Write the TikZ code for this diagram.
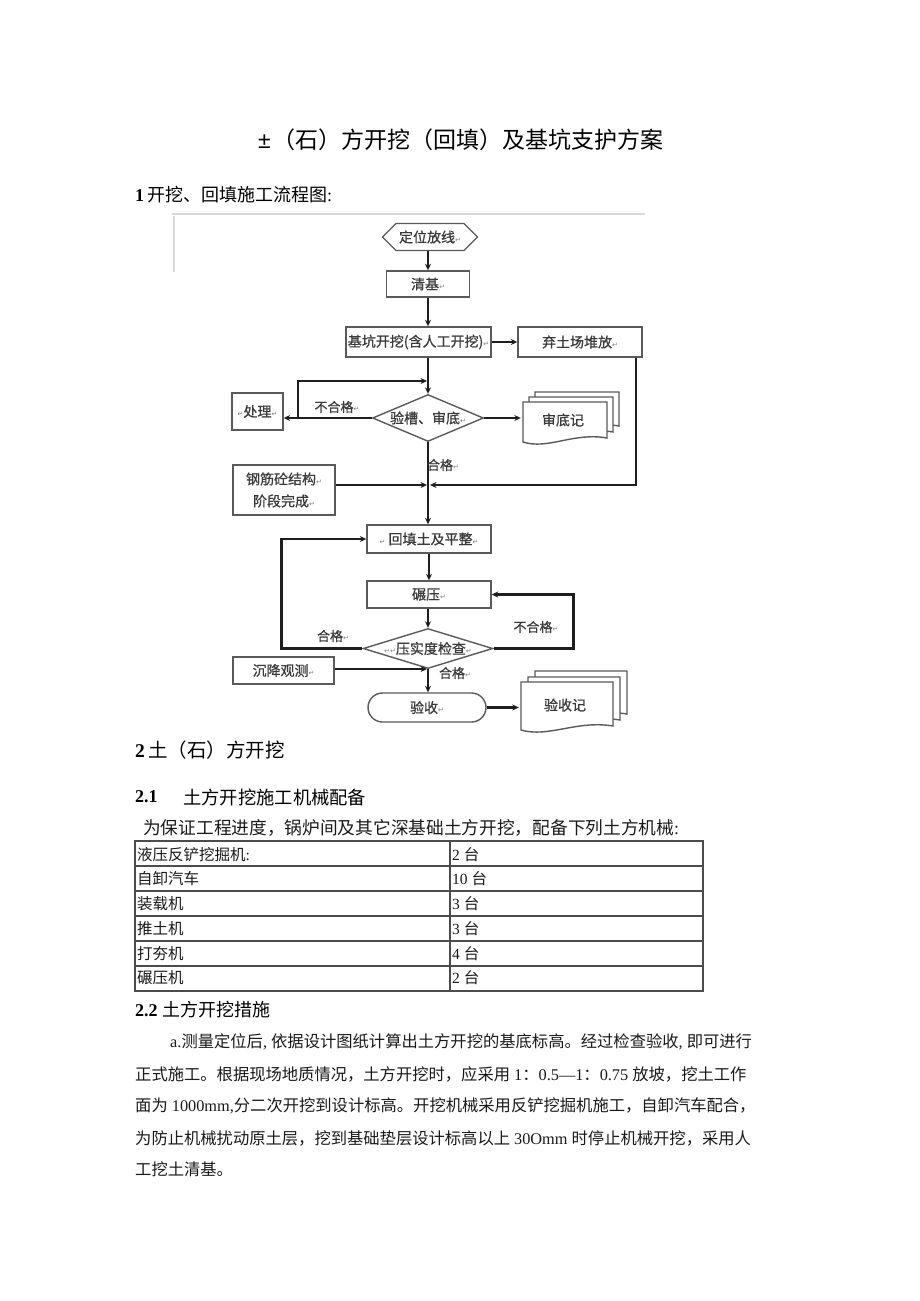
\documentclass[tikz,border=0pt]{standalone}
\usepackage{fontspec}
\setmainfont{Liberation Serif}
\newfontfamily\cjk{Noto Sans CJK SC}
\newfontfamily\cjkm[FakeBold=0.7]{Noto Sans CJK SC}
\newfontfamily\symf{DejaVu Sans}
\newfontfamily\lsans{Liberation Sans}
\usetikzlibrary{arrows.meta,shapes.geometric,shapes.misc,shapes.symbols}
\definecolor{boxc}{HTML}{5A5A5A}
\definecolor{linec}{HTML}{1E1E1E}
\definecolor{txtc}{HTML}{3A3A3A}
\definecolor{bodyc}{HTML}{1A1A1A}
\newcommand\zz[1]{{\cjk #1}}
\newcommand\rmk{{\symf\fontsize{7}{7}\selectfont\textcolor{gray}{↵}}}
\newcommand\docshp[4]{%
  \draw[docl] (#1,#2) -- (#3,#2) -- (#3,{#4-7})
    .. controls ({#1+0.6*(#3-#1)},{#4-13}) and ({#1+0.3*(#3-#1)},{#4+5}) .. (#1,{#4-3}) -- cycle;}
\begin{document}
\begin{tikzpicture}[x=1pt,y=-1pt,
  flowtxt/.style={font=\cjkm\fontsize{14}{22}\selectfont, text=txtc},
  box/.style={flowtxt, draw=boxc, line width=1.4pt, fill=white, inner sep=0pt},
  lbl/.style={font=\cjkm\fontsize{13}{14}\selectfont, text=txtc, inner sep=0pt},
  conn/.style={draw=linec, line width=2.2pt},
  arr/.style={conn, -{Stealth[length=6.5pt,width=6pt]}},
  docl/.style={draw=boxc, line width=1.4pt, fill=white},
  bodyt/.style={anchor=west, inner sep=0pt, text=bodyc},
  cellt/.style={bodyt, font=\fontsize{15.5}{15.5}\selectfont},
  tline/.style={draw=black!70, line width=1.1pt}]
\fill[white] (0,0) rectangle (920,1301);
\path[use as bounding box] (0,0) rectangle (920,1301);

% ---------- headings ----------
\node[bodyt, text=black, font=\cjk\fontsize{23}{23}\selectfont] (title) at (258,140) {{\lsans ±}\kern2pt（石）方开挖（回填）及基坑支护方案};
\node[bodyt, text=black, font=\fontsize{18}{18}\selectfont] (h1) at (135,195) {\textbf{1}\,\zz{开挖、回填施工流程图}:};

% faint frame remains of the pasted picture
\draw[gray!30, line width=1.2pt] (172,214) -- (645,214);
\draw[gray!30, line width=1.2pt] (174,216) -- (174,272);

% ---------- flowchart nodes ----------
\node[box, signal, signal to=west and east, minimum width=95pt, minimum height=27pt] (dw) at (430,237) {定位放线\rmk};
\node[box, minimum width=83pt, minimum height=26pt] (qj) at (428,284) {清基\rmk};
\node[box, minimum width=145pt, minimum height=30pt] (kw) at (418.5,342) {基坑开挖(含人工开挖)\rmk};
\node[box, minimum width=124pt, minimum height=30pt] (qt) at (580,342) {弃土场堆放\rmk};
\node[box, diamond, aspect=2.36, minimum width=111pt, minimum height=47pt] (yc) at (428,418) {验槽、审底\rmk};
\node[box, minimum width=51pt, minimum height=37pt] (cl) at (257.5,411.5) {\rmk 处理\rmk};
\node[box, minimum width=102pt, minimum height=50pt, align=center] (gj) at (284,490) {钢筋砼结构\rmk\\阶段完成\rmk};
\node[box, minimum width=124pt, minimum height=28pt] (ht) at (429,539) {\rmk\ 回填土及平整\rmk};
\node[box, minimum width=124pt, minimum height=27pt] (ny) at (429,594.5) {碾压\rmk};
\node[box, diamond, aspect=3.24, minimum width=120pt, minimum height=37pt] (ysd) at (428,648.5) {\rmk\rmk 压实度检查\rmk};
\node[box, minimum width=101pt, minimum height=27pt] (cj) at (283.5,670.5) {沉降观测\rmk};
\node[box, rounded rectangle, minimum width=118pt, minimum height=29pt] (ys) at (427,707.5) {验收\rmk};

% multi-documents
\docshp{535}{392}{619}{433}
\docshp{529}{397}{613}{439}
\docshp{523}{402}{607}{445}
\node[flowtxt, minimum width=84pt, minimum height=43pt, inner sep=0pt] (sdj) at (563,420) {审底记};
\docshp{535}{671}{627}{721}
\docshp{528}{677}{620}{727}
\docshp{521}{682}{613}{733}
\node[flowtxt, minimum width=92pt, minimum height=46pt, inner sep=0pt] (ysj) at (565,705) {验收记};

% ---------- connectors ----------
\coordinate (m1) at (427,381);
\coordinate (m2) at (428,485);
\coordinate (m3) at (428,669);
\draw[arr] (qj.north |- dw.south) -- (qj.north);
\draw[arr] (qj.south) -- (qj.south |- kw.north);
\draw[arr] (kw.east) -- (qt.west);
\draw[arr] (qj.south |- kw.south) -- (yc.north);
\draw[arr] (yc.west) -- (yc.west -| cl.east);
\draw[arr] ([xshift=14pt]yc.west -| cl.east) |- (m1);
\draw[arr] (yc.east) -- (yc.east -| sdj.west);
\draw[arr] (yc.south) -- (yc.south |- ht.north);
\draw[arr] (gj.east |- m2) -- ([xshift=-1pt]m2);
\draw[arr] ([xshift=-7pt]qt.south east) |- ([xshift=2pt]m2);
\draw[arr] (ht.south) -- (ny.north);
\draw[arr] (ny.south -| ysd.north) -- (ysd.north);
\draw[arr] (ysd.west) -- ++(-81,0) |- (ht.west);
\draw[arr] (ysd.east) -- ++(80,0) |- (ny.east);
\draw[arr] (ysd.south) -- (ysd.south |- ys.north);
\draw[arr] (cj.east |- m3) -- ([xshift=-1pt]m3);
\draw[arr] (ys.east) -- (ys.east -| ysj.west);

% connector labels
\node[lbl] (l1) at (337,407) {不合格\rmk};
\node[lbl] (l2) at (443,465) {合格\rmk};
\node[lbl] (l3) at (333,636) {合格\rmk};
\node[lbl] (l4) at (536,627) {不合格\rmk};
\node[lbl] (l5) at (455,673) {合格\rmk};

% ---------- section 2 ----------
\node[bodyt, text=black, font=\fontsize{19.5}{19.5}\selectfont] (h2) at (135,750) {\textbf{2}\,\zz{土（石）方开挖}};
\node[bodyt, text=black, font=\fontsize{18}{18}\selectfont] (h21n) at (135,797) {\textbf{2.1}};
\node[bodyt, text=black, font=\cjk\fontsize{18.3}{18.3}\selectfont] (h21) at (183,797) {土方开挖施工机械配备};
\node[bodyt, font=\fontsize{17.7}{17.7}\selectfont] (intro) at (143,828) {\zz{为保证工程进度，锅炉间及其它深基础土方开挖，配备下列土方机械}:};

% table
\draw[tline] (135,841) rectangle (703,991);
\draw[tline] (450,841) -- (450,991);
\foreach \yy in {866,891,916,941,966} \draw[tline] (135,\yy) -- (703,\yy);
\node[cellt] (a1) at (137,855) {\zz{液压反铲挖掘机}:};
\node[cellt] (b1) at (452,855) {2 \zz{台}};
\node[cellt] (a2) at (137,879) {\zz{自卸汽车}};
\node[cellt] (b2) at (452,879) {10 \zz{台}};
\node[cellt] (a3) at (137,904) {\zz{装载机}};
\node[cellt] (b3) at (452,904) {3 \zz{台}};
\node[cellt] (a4) at (137,929) {\zz{推土机}};
\node[cellt] (b4) at (452,929) {3 \zz{台}};
\node[cellt] (a5) at (137,954) {\zz{打夯机}};
\node[cellt] (b5) at (452,954) {4 \zz{台}};
\node[cellt] (a6) at (137,978) {\zz{碾压机}};
\node[cellt] (b6) at (452,978) {2 \zz{台}};

% 2.2
\node[bodyt, text=black, font=\fontsize{18}{18}\selectfont] (h22) at (135,1010) {\textbf{2.2} \zz{土方开挖措施}};
\begin{scope}[every node/.style={bodyt, font=\fontsize{16.3}{16.3}\selectfont}]
\node (p1) at (170,1042) {a.\zz{测量定位后}, \zz{依据设计图纸计算出土方开挖的基底标高。经过检查验收}, \zz{即可进行}};
\node (p2) at (135,1074) {\zz{正式施工。根据现场地质情况，土方开挖时，应采用} 1\zz{：}0.5—1\zz{：}0.75 \zz{放坡，挖土工作}};
\node (p3) at (135,1106) {\zz{面为} 1000mm,\zz{分二次开挖到设计标高。开挖机械采用反铲挖掘机施工，自卸汽车配合，}};
\node (p4) at (135,1138) {\zz{为防止机械扰动原土层，挖到基础垫层设计标高以上} 30Omm \zz{时停止机械开挖，采用人}};
\node (p5) at (135,1169) {\zz{工挖土清基。}};
\end{scope}
\end{tikzpicture}
\end{document}
